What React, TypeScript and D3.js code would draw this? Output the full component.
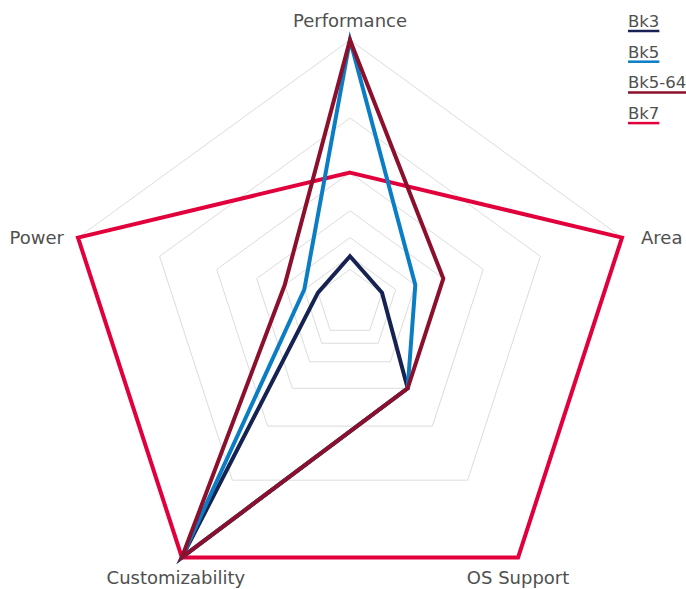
import { useRef, useEffect } from "react";
import * as d3 from "d3";

const axes = ["Performance", "Area", "OS Support", "Customizability", "Power"];
const seriesNames = ["Bk3", "Bk5", "Bk5-64", "Bk7"];
const colors = ["#152252", "#0b7dc4", "#8c0f2b", "#e2003c"];
// rating 1..7 on each axis
const bk3 = [2, 1, 4, 7, 1];
const bk5 = [7, 3, 4, 7, 2];
const bk5_64 = [7, 4, 4, 7, 3];
const bk7 = [5, 7, 7, 7, 7];
const levels = [1, 2, 3, 4, 5, 6, 7];

const App = () => {
  const svgRef = useRef(null);

  useEffect(() => {
    const svg = d3.select(svgRef.current);
    svg.selectAll("*").remove();

    const cx = 350;
    const cy = 326;
    const R = 286;
    const originY = 300; // spokes meet a bit above the pentagon centre

    const angle = d3
      .scaleLinear()
      .domain([0, axes.length])
      .range([0, 2 * Math.PI]);

    // outer vertex of each axis
    const outer = axes.map((_, i) => [
      cx + R * Math.sin(angle(i)),
      cy - R * Math.cos(angle(i)),
    ]);

    // rating -> fraction of the spoke (each step is 0.7 of the next)
    const expo = d3.scaleLinear().domain([1, 7]).range([6 * Math.log(0.7), 0]);
    const frac = (v) => Math.exp(expo(v));

    const point = (i, v) => {
      const f = frac(v);
      return [cx + (outer[i][0] - cx) * f, originY + (outer[i][1] - originY) * f];
    };

    const line = d3.line().curve(d3.curveLinearClosed);

    const g = svg.append("g");

    g.selectAll("path.grid")
      .data(levels)
      .join("path")
      .attr("class", "grid")
      .attr("d", (lv) => line(axes.map((_, i) => point(i, lv))))
      .attr("fill", "none")
      .attr("stroke", "#dcdcdc")
      .attr("stroke-width", 1);

    const series = [bk3, bk5, bk5_64, bk7];
    const order = [3, 0, 1, 2];

    g.selectAll("path.series")
      .data(order)
      .join("path")
      .attr("class", "series")
      .attr("d", (s) => line(series[s].map((v, i) => point(i, v))))
      .attr("fill", "none")
      .attr("stroke", (s) => colors[s])
      .attr("stroke-width", 4)
      .attr("stroke-linejoin", "miter")
      .attr("stroke-miterlimit", 10);

    const font = "'DejaVu Sans', sans-serif";
    const labelPos = [
      { dx: 0, dy: -13, anchor: "middle" },
      { dx: 19, dy: 6, anchor: "start" },
      { dx: 0, dy: 27, anchor: "middle" },
      { dx: -6, dy: 27, anchor: "middle" },
      { dx: -14, dy: 6, anchor: "end" },
    ];

    g.selectAll("text.axis")
      .data(axes)
      .join("text")
      .attr("class", "axis")
      .attr("x", (_, i) => outer[i][0] + labelPos[i].dx)
      .attr("y", (_, i) => outer[i][1] + labelPos[i].dy)
      .attr("text-anchor", (_, i) => labelPos[i].anchor)
      .attr("font-family", font)
      .attr("font-size", 18)
      .attr("fill", "#505050")
      .text((d) => d);

    const legend = g
      .selectAll("g.legend")
      .data(seriesNames)
      .join("g")
      .attr("class", "legend")
      .attr("transform", (_, i) => `translate(628,${27 + i * 30.7})`);

    legend
      .append("text")
      .attr("font-family", font)
      .attr("font-size", 16.5)
      .attr("fill", "#505050")
      .text((d) => d);

    legend.each(function (_, i) {
      const el = d3.select(this);
      const w = el.select("text").node().getComputedTextLength();
      el.append("line")
        .attr("x1", 0)
        .attr("x2", w)
        .attr("y1", 4)
        .attr("y2", 4)
        .attr("stroke", colors[i])
        .attr("stroke-width", 2.5);
    });
  }, []);

  return (
    <svg
      ref={svgRef}
      width={686}
      height={589}
      style={{ position: "absolute", left: 0, top: 0, background: "#fff" }}
    />
  );
};

export default App;
